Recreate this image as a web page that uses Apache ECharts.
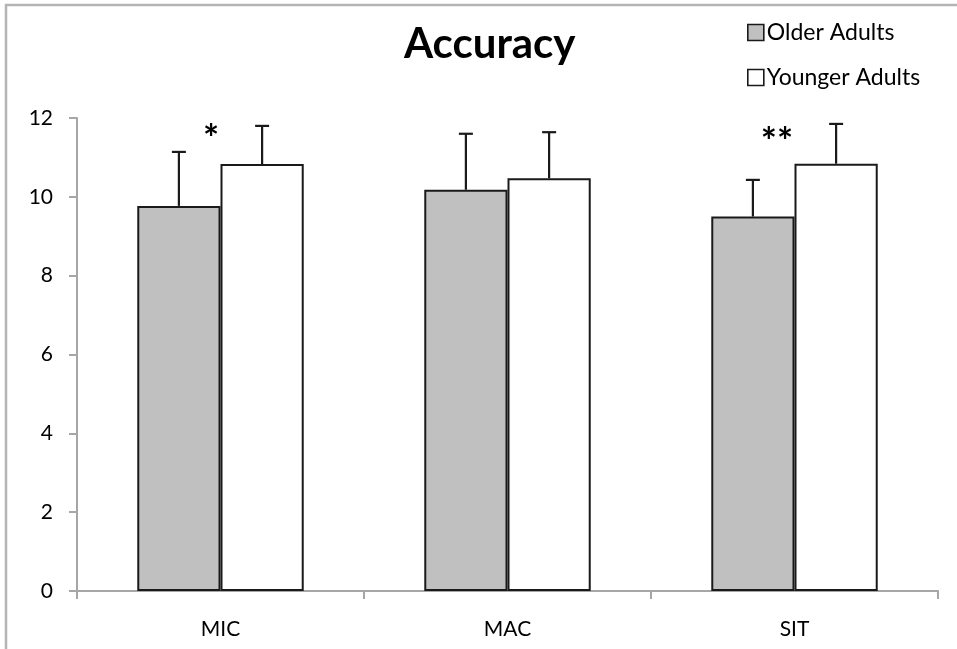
<!DOCTYPE html>
<html><head><meta charset="utf-8">
<script src="https://cdn.jsdelivr.net/npm/echarts@6/dist/echarts.min.js"></script>
<style>html,body{margin:0;padding:0;background:#fff}#c{width:957px;height:649px}</style>
</head><body><div id="c"></div>
<script>
const categories = ['MIC', 'MAC', 'SIT'];
const seriesNames = ['Older Adults', 'Younger Adults'];
const olderValues = [9.77, 10.18, 9.5];
const youngerValues = [10.83, 10.47, 10.84];
const olderErrors = [1.37, 1.42, 0.93];
const youngerErrors = [0.97, 1.17, 1.01];
const significance = ['*', '', '**'];
const significanceLevel = [11.7, 11.7, 11.62];
const yMin = 0, yMax = 12, yStep = 2;

const FONT = 'Lato, "Open Sans", sans-serif';
const BAR_FRAC = 0.29;

function errorSeries(values, errors, side) {
  return {
    type: 'custom',
    silent: true,
    z: 5,
    data: values.map((v, i) => [i, v, errors[i]]),
    renderItem: function (params, api) {
      const i = api.value(0), v = api.value(1), e = api.value(2);
      const catW = api.size([1, 0])[0];
      const base = api.coord([i, v]);
      const top = api.coord([i, v + e]);
      const x = base[0] + side * catW * BAR_FRAC / 2;
      const cap = 7;
      const style = { stroke: '#1a1a1a', lineWidth: 2.2 };
      return {
        type: 'group',
        children: [
          { type: 'line', shape: { x1: x, y1: base[1], x2: x, y2: top[1] }, style: style },
          { type: 'line', shape: { x1: x - cap, y1: top[1], x2: x + cap, y2: top[1] }, style: style }
        ]
      };
    }
  };
}

const chart = echarts.init(document.getElementById('c'), null, { renderer: 'canvas' });
chart.setOption({
  animation: false,
  backgroundColor: '#fff',
  graphic: [{
    type: 'rect', silent: true, z: -1,
    shape: { x: 6, y: 5, width: 1000, height: 700 },
    style: { fill: 'none', stroke: '#b4b4b4', lineWidth: 2.5 }
  }],
  title: {
    text: 'Accuracy',
    left: 399, top: 18,
    textStyle: { fontFamily: FONT, fontWeight: 'bold', fontSize: 42, color: '#000' }
  },
  legend: {
    orient: 'vertical',
    left: 742, top: 16,
    itemWidth: 16, itemHeight: 16, itemGap: 22,
    icon: 'rect',
    data: seriesNames,
    itemStyle: { borderColor: '#1a1a1a', borderWidth: 1.6 },
    textStyle: { fontFamily: FONT, fontSize: 23, color: '#000', padding: [0, 0, 0, -2] }
  },
  grid: { left: 77, right: 19, top: 118, bottom: 58 },
  xAxis: {
    type: 'category',
    data: categories,
    axisLine: { lineStyle: { color: '#a6a6a6', width: 2 } },
    axisTick: { show: true, length: 8, lineStyle: { color: '#a6a6a6', width: 2 } },
    axisLabel: { fontFamily: FONT, fontSize: 21, color: '#000', margin: 28 }
  },
  yAxis: {
    type: 'value',
    min: yMin, max: yMax, interval: yStep,
    splitLine: { show: false },
    axisLine: { show: true, lineStyle: { color: '#a6a6a6', width: 2 } },
    axisTick: { show: true, length: 8, lineStyle: { color: '#a6a6a6', width: 2 } },
    axisLabel: { fontFamily: FONT, fontSize: 21, color: '#000', margin: 24 }
  },
  series: [
    {
      name: seriesNames[0], type: 'bar', data: olderValues,
      barGap: '0%', barCategoryGap: '42%',
      itemStyle: { color: '#c0c0c0', borderColor: '#1a1a1a', borderWidth: 2 }
    },
    {
      name: seriesNames[1], type: 'bar', data: youngerValues,
      barGap: '0%', barCategoryGap: '42%',
      itemStyle: { color: '#ffffff', borderColor: '#1a1a1a', borderWidth: 2 }
    },
    errorSeries(olderValues, olderErrors, -1),
    errorSeries(youngerValues, youngerErrors, 1),
    {
      type: 'custom', silent: true, z: 6,
      data: significance.map((s, i) => [i, significanceLevel[i], s]),
      renderItem: function (params, api) {
        const i = api.value(0), y = api.value(1);
        const txt = significance[i];
        const catW = api.size([1, 0])[0];
        const p = api.coord([i, y]);
        return {
          type: 'text',
          style: {
            x: p[0] - catW * 0.005, y: p[1] + 10,
            text: txt, textAlign: 'right', textVerticalAlign: 'middle',
            font: 'bold 38px ' + FONT, fill: '#000'
          }
        };
      }
    }
  ]
});
</script></body></html>
